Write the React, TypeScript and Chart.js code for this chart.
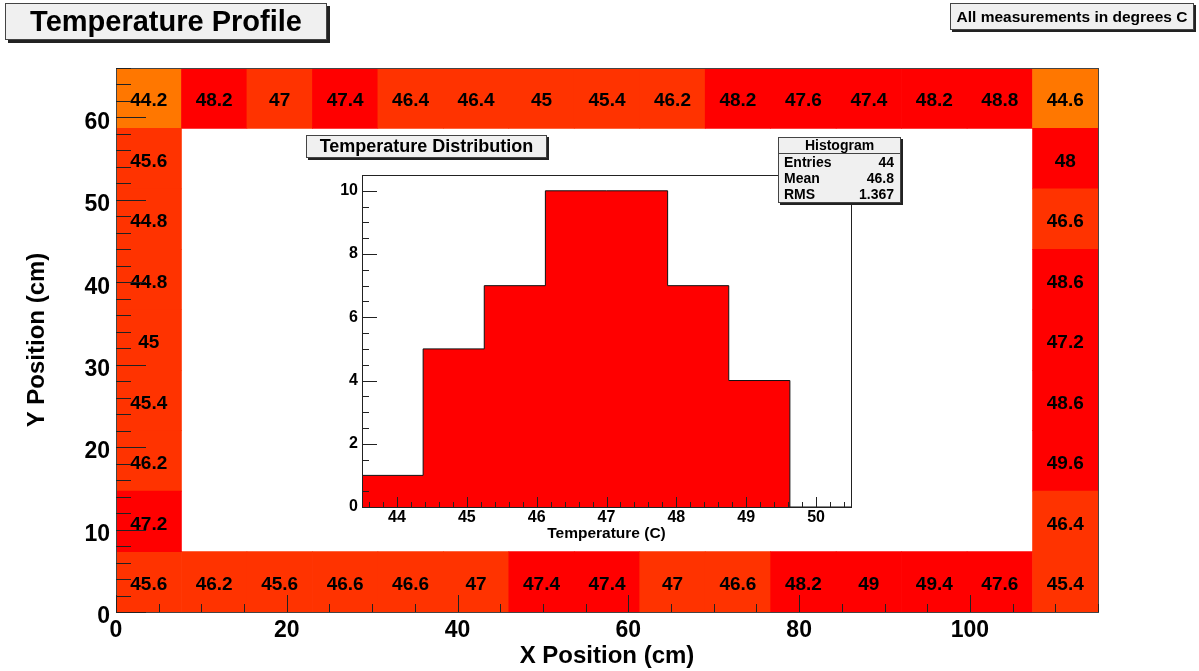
import React, { useEffect, useRef } from 'react';
import { Chart, registerables } from 'chart.js';

Chart.register(...registerables);

const FONT = '"Liberation Sans", Arial, Helvetica, sans-serif';

// ---- Main 2D map (TH2 with text) ----
const X_RANGE = [0, 115];
const Y_RANGE = [0, 66];
const NX = 15;
const NY = 9;
const xTickValues = [0, 20, 40, 60, 80, 100];
const yTickValues = [0, 10, 20, 30, 40, 50, 60];

const topRowValues = [44.2, 48.2, 47, 47.4, 46.4, 46.4, 45, 45.4, 46.2, 48.2, 47.6, 47.4, 48.2, 48.8, 44.6];
const bottomRowValues = [45.6, 46.2, 45.6, 46.6, 46.6, 47, 47.4, 47.4, 47, 46.6, 48.2, 49, 49.4, 47.6, 45.4];
// listed from top to bottom (rows 8..2)
const leftColumnValues = [45.6, 44.8, 44.8, 45, 45.4, 46.2, 47.2];
const rightColumnValues = [48, 46.6, 48.6, 47.2, 48.6, 49.6, 46.4];

// ---- Inset histogram ----
const histRange = [43.5, 50.5];
const histCounts = [1, 5, 7, 10, 10, 7, 4, 0];
const histYMax = 10.5;
const histXTicks = [44, 45, 46, 47, 48, 49, 50];
const histYTicks = [0, 2, 4, 6, 8, 10];
const statLabels = ['Entries', 'Mean', 'RMS'];
const statValues = ['44', '46.8', '1.367'];

type Cell = { x: number; y: [number, number]; v: number };

function buildCells(): Cell[] {
  const dx = (X_RANGE[1] - X_RANGE[0]) / NX;
  const dy = (Y_RANGE[1] - Y_RANGE[0]) / NY;
  const cell = (i: number, j: number, v: number): Cell => ({
    x: X_RANGE[0] + (i + 0.5) * dx,
    y: [Y_RANGE[0] + j * dy, Y_RANGE[0] + (j + 1) * dy],
    v,
  });
  const out: Cell[] = [];
  topRowValues.forEach((v, i) => out.push(cell(i, NY - 1, v)));
  bottomRowValues.forEach((v, i) => out.push(cell(i, 0, v)));
  leftColumnValues.forEach((v, k) => out.push(cell(0, NY - 2 - k, v)));
  rightColumnValues.forEach((v, k) => out.push(cell(NX - 1, NY - 2 - k, v)));
  return out;
}

function cellColor(v: number): string {
  if (v < 44.7) return '#ff7700';
  if (v < 47.1) return '#ff3300';
  return '#ff0000';
}

function insideTicks(
  ctx: CanvasRenderingContext2D,
  chart: any,
  axis: 'x' | 'y',
  step: number,
  majorEvery: number,
  majorLen: number,
  minorLen: number
) {
  const s = chart.scales[axis];
  const a = chart.chartArea;
  const kmin = Math.ceil(s.min / step - 1e-6);
  const kmax = Math.floor(s.max / step + 1e-6);
  for (let k = kmin; k <= kmax; k++) {
    const p = Math.round(s.getPixelForValue(k * step)) + 0.5;
    const len = k % majorEvery === 0 ? majorLen : minorLen;
    if (axis === 'x') {
      ctx.moveTo(p, a.bottom);
      ctx.lineTo(p, a.bottom - len);
    } else {
      ctx.moveTo(a.left, p);
      ctx.lineTo(a.left + len, p);
    }
  }
}

function drawFrame(ctx: CanvasRenderingContext2D, a: any) {
  ctx.strokeRect(Math.round(a.left) + 0.5, Math.round(a.top) + 0.5, Math.round(a.right - a.left), Math.round(a.bottom - a.top));
}

const paveBase: React.CSSProperties = {
  position: 'absolute',
  boxSizing: 'border-box',
  background: '#f0f0f0',
  border: '1px solid #444',
  fontFamily: FONT,
  fontWeight: 'bold',
  color: '#000',
  display: 'flex',
  alignItems: 'center',
  justifyContent: 'center',
  whiteSpace: 'nowrap',
  zIndex: 3,
};

export default function App() {
  const mainRef = useRef<HTMLCanvasElement>(null);
  const histRef = useRef<HTMLCanvasElement>(null);

  useEffect(() => {
    document.body.style.margin = '0';
    Chart.defaults.font.family = FONT;
    const cells = buildCells();

    const cellTextPlugin = {
      id: 'cellText',
      afterDatasetsDraw(chart: any) {
        const ctx = chart.ctx as CanvasRenderingContext2D;
        const meta = chart.getDatasetMeta(0);
        ctx.save();
        ctx.fillStyle = '#000';
        ctx.font = `bold 19px ${FONT}`;
        ctx.textAlign = 'center';
        ctx.textBaseline = 'middle';
        meta.data.forEach((el: any, idx: number) => {
          const p = el.getProps(['x', 'y', 'base'], true);
          ctx.fillText(String(cells[idx].v), p.x, (p.y + p.base) / 2 + 3);
        });
        ctx.restore();
      },
    };

    const mainTicksPlugin = {
      id: 'mainTicks',
      afterDraw(chart: any) {
        const ctx = chart.ctx as CanvasRenderingContext2D;
        ctx.save();
        ctx.strokeStyle = '#444';
        ctx.lineWidth = 1;
        drawFrame(ctx, chart.chartArea);
        ctx.strokeStyle = '#222';
        ctx.beginPath();
        insideTicks(ctx, chart, 'y', 2, 5, 30, 15);
        insideTicks(ctx, chart, 'x', 5, 4, 17, 8);
        ctx.stroke();
        ctx.restore();
      },
    };

    const main = new Chart(mainRef.current as HTMLCanvasElement, {
      type: 'bar',
      data: {
        datasets: [
          {
            data: cells as any,
            backgroundColor: (c: any) => cellColor(c.raw ? c.raw.v : 0),
            borderWidth: 0,
            barPercentage: 1,
            categoryPercentage: 1,
          } as any,
        ],
      },
      options: {
        responsive: false,
        animation: false,
        events: [],
        layout: { padding: { left: 0, top: 68, right: 101, bottom: 0 } },
        plugins: { legend: { display: false }, tooltip: { enabled: false } },
        scales: {
          x: {
            type: 'linear',
            min: X_RANGE[0],
            max: X_RANGE[1],
            offset: false,
            grid: { display: false, drawTicks: false, offset: false },
            border: { display: false },
            ticks: { font: { size: 23, weight: 'bold' }, color: '#000', padding: 5, maxRotation: 0, autoSkip: false },
            afterBuildTicks: (s: any) => {
              s.ticks = xTickValues.map((v) => ({ value: v }));
            },
            afterFit: (s: any) => {
              s.height = 59;
            },
            title: {
              display: true,
              text: 'X Position (cm)',
              font: { size: 24, weight: 'bold' },
              color: '#000',
              padding: { top: 0, bottom: 0 },
            },
          },
          y: {
            type: 'linear',
            min: Y_RANGE[0],
            max: Y_RANGE[1],
            grid: { display: false, drawTicks: false },
            border: { display: false },
            ticks: { font: { size: 23, weight: 'bold' }, color: '#000', padding: 6, labelOffset: 5, autoSkip: false },
            afterBuildTicks: (s: any) => {
              s.ticks = yTickValues.map((v) => ({ value: v }));
            },
            afterFit: (s: any) => {
              s.width = 116;
            },
            title: {
              display: true,
              text: 'Y Position (cm)',
              font: { size: 24, weight: 'bold' },
              color: '#000',
              padding: { top: 23, bottom: 0 },
            },
          },
        },
      } as any,
      plugins: [cellTextPlugin, mainTicksPlugin],
    });

    const binW = (histRange[1] - histRange[0]) / histCounts.length;
    const histPoints = histCounts.map((c, i) => ({ x: histRange[0] + i * binW, y: c }));
    histPoints.push({ x: histRange[1], y: histCounts[histCounts.length - 1] });

    const histTicksPlugin = {
      id: 'histTicks',
      afterDraw(chart: any) {
        const ctx = chart.ctx as CanvasRenderingContext2D;
        ctx.save();
        ctx.strokeStyle = '#222';
        ctx.lineWidth = 1;
        drawFrame(ctx, chart.chartArea);
        ctx.beginPath();
        insideTicks(ctx, chart, 'x', 0.2, 5, 10, 5);
        insideTicks(ctx, chart, 'y', 0.5, 4, 15, 7);
        ctx.stroke();
        ctx.restore();
      },
    };

    const hist = new Chart(histRef.current as HTMLCanvasElement, {
      type: 'line',
      data: {
        datasets: [
          {
            data: histPoints as any,
            stepped: 'before',
            fill: 'origin',
            backgroundColor: '#ff0000',
            borderColor: '#111',
            borderWidth: 1,
            pointRadius: 0,
          } as any,
        ],
      },
      options: {
        responsive: false,
        animation: false,
        events: [],
        layout: { padding: { left: 0, top: 45, right: 39, bottom: 0 } },
        plugins: { legend: { display: false }, tooltip: { enabled: false } },
        scales: {
          x: {
            type: 'linear',
            min: histRange[0],
            max: histRange[1],
            grid: { display: false, drawTicks: false },
            border: { display: false },
            ticks: { font: { size: 16, weight: 'bold' }, color: '#000', padding: 1, maxRotation: 0, autoSkip: false },
            afterBuildTicks: (s: any) => {
              s.ticks = histXTicks.map((v) => ({ value: v }));
            },
            afterFit: (s: any) => {
              s.height = 43;
            },
            title: {
              display: true,
              text: 'Temperature (C)',
              font: { size: 15.5, weight: 'bold' },
              color: '#000',
              padding: { top: 0, bottom: 7 },
            },
          },
          y: {
            type: 'linear',
            min: 0,
            max: histYMax,
            grid: { display: false, drawTicks: false },
            border: { display: false },
            ticks: { font: { size: 16, weight: 'bold' }, color: '#000', padding: 4, autoSkip: false },
            afterBuildTicks: (s: any) => {
              s.ticks = histYTicks.map((v) => ({ value: v }));
            },
            afterFit: (s: any) => {
              s.width = 72;
            },
          },
        },
      } as any,
      plugins: [histTicksPlugin],
    });

    return () => {
      main.destroy();
      hist.destroy();
    };
  }, []);

  return (
    <div style={{ position: 'absolute', left: 0, top: 0, width: 1199, height: 671, overflow: 'hidden', background: '#fff' }}>
      <canvas ref={mainRef} width={1199} height={671} style={{ position: 'absolute', left: 0, top: 0, width: 1199, height: 671 }} />
      <canvas ref={histRef} width={600} height={420} style={{ position: 'absolute', left: 290, top: 130, width: 600, height: 420, zIndex: 1 }} />
      <div style={{ ...paveBase, left: 5, top: 3, width: 322, height: 37, fontSize: 29, boxShadow: '3px 3px 0 #222' }}>Temperature Profile</div>
      <div style={{ ...paveBase, left: 950, top: 3, width: 244, height: 27, fontSize: 15.5, boxShadow: '2px 2px 0 #222' }}>All measurements in degrees C</div>
      <div style={{ ...paveBase, left: 306, top: 135, width: 241, height: 23, fontSize: 18, boxShadow: '2px 2px 0 #222' }}>Temperature Distribution</div>
      <div
        style={{
          ...paveBase,
          left: 778,
          top: 137,
          width: 123,
          height: 66,
          fontSize: 14,
          display: 'block',
          boxShadow: '2px 2px 0 #222',
        }}
      >
        <div style={{ height: 15, lineHeight: '15px', textAlign: 'center', borderBottom: '1px solid #444' }}>Histogram</div>
        {statLabels.map((l, i) => (
          <div key={l} style={{ height: 16, lineHeight: '16px', display: 'flex', justifyContent: 'space-between', padding: '0 6px 0 5px' }}>
            <span>{l}</span>
            <span>{statValues[i]}</span>
          </div>
        ))}
      </div>
    </div>
  );
}
